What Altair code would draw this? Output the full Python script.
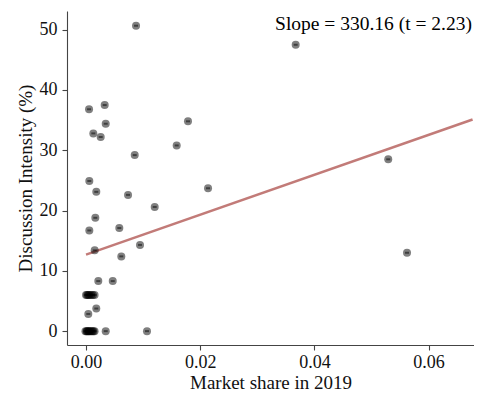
import altair as alt
import pandas as pd

# ---- data ----
market_share = [
    0.00876, 0.03672, 0.00053, 0.00327, 0.00345, 0.00128, 0.00257, 0.01786,
    0.01588, 0.00853, 0.05293, 0.00058, 0.00180, 0.00736, 0.02137, 0.01203,
    0.00163, 0.00583, 0.00058, 0.00946, 0.00152, 0.00618, 0.05622, 0.00215,
    0.00468,
    0.0000, 0.0002, 0.0004, 0.0006, 0.0009, 0.0012, 0.0015,
    0.00180, 0.00040,
    -0.0001, 0.0001, 0.0002, 0.0004, 0.0005, 0.0007, 0.0009, 0.0011, 0.0013, 0.0015,
    0.00345, 0.01068,
]
intensity = [
    50.66, 47.5, 36.8, 37.5, 34.4, 32.8, 32.2, 34.8,
    30.8, 29.2, 28.5, 24.9, 23.1, 22.6, 23.7, 20.6,
    18.8, 17.1, 16.7, 14.3, 13.4, 12.4, 13.0, 8.3,
    8.3,
    6.0, 6.0, 6.0, 6.0, 6.0, 6.0, 6.0,
    3.75, 2.85,
    0.0, 0.0, 0.0, 0.0, 0.0, 0.0, 0.0, 0.0, 0.0, 0.0,
    0.0, 0.0,
]
fit_x = [0.0, 0.0677]
fit_y = [12.7, 35.1]
annotation = "Slope = 330.16 (t = 2.23)"
x_ticks = [0.0, 0.02, 0.04, 0.06]
y_ticks = [0, 10, 20, 30, 40, 50]
x_title = "Market share in 2019"
y_title = "Discussion Intensity (%)"

FONT = "Liberation Serif"

pts = pd.DataFrame({"share": market_share, "intensity": intensity})
fit = pd.DataFrame({"share": fit_x, "intensity": fit_y})

W, H = 407, 334

xscale = alt.Scale(domain=[-0.00333, 0.06795], nice=False, zero=False)
yscale = alt.Scale(domain=[-2.3, 53.1], nice=False, zero=False)

xaxis = alt.Axis(
    values=x_ticks, format=".2f", title=x_title, grid=False,
    tickSize=5, labelPadding=3, labelFlush=False,
    titleY=43, titleBaseline="alphabetic",
)
yaxis = alt.Axis(
    values=y_ticks, format="d", title=y_title, grid=False,
    tickSize=5, labelPadding=5, labelFlush=False,
    titleX=-36, titleY=H / 2, titleAngle=-90,
    titleBaseline="alphabetic", titleAlign="center",
)

x = alt.X("share:Q", scale=xscale, axis=xaxis)
y = alt.Y("intensity:Q", scale=yscale, axis=yaxis)

circles = alt.Chart(pts).mark_circle(size=64, color="black", opacity=0.5).encode(x=x, y=y)
inner = alt.Chart(pts).mark_point(
    shape="M-1,-0.5H1V0.5H-1Z", filled=True, size=16, color="black", opacity=0.5
).encode(x=x, y=y)
line = alt.Chart(fit).mark_line(color="#c27b78", strokeWidth=2.5).encode(x=x, y=y)
label = alt.Chart(pd.DataFrame({"t": [annotation]})).mark_text(
    align="right", baseline="alphabetic", font=FONT, fontSize=19.5, color="black"
).encode(text="t:N", x=alt.value(405), y=alt.value(18.5))

chart = (
    alt.layer(line, circles, inner, label)
    .properties(
        width=W, height=H, autosize="none",
        padding={"left": 59, "top": 3, "right": 0, "bottom": 48},
    )
    .configure_view(stroke=None)
    .configure_axis(
        labelFont=FONT, titleFont=FONT, labelFontSize=18, titleFontSize=19,
        titleFontWeight="normal", labelColor="#111", titleColor="#111",
        domainColor="#444", tickColor="#444", domainWidth=1.1, tickWidth=1.1,
    )
)

chart.save("out.html", embed_options={"renderer": "svg", "actions": False})
